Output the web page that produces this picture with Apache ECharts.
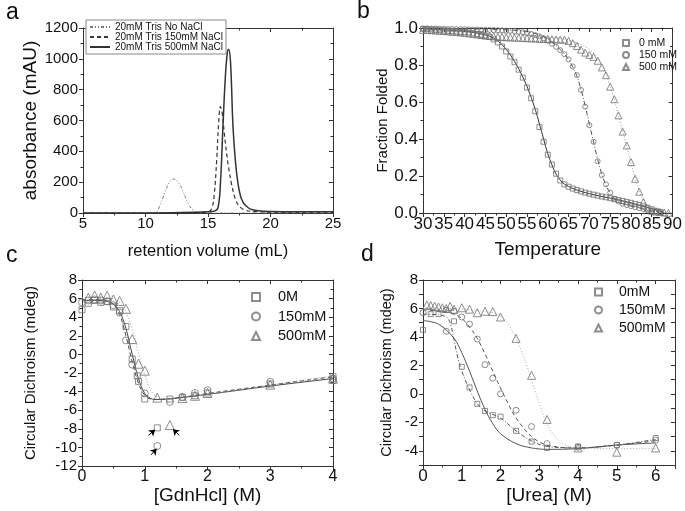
<!DOCTYPE html>
<html><head><meta charset="utf-8">
<script src="https://cdn.jsdelivr.net/npm/echarts@6/dist/echarts.min.js"></script>
<style>html,body{margin:0;padding:0;background:#fff}#c{width:685px;height:511px}</style>
</head><body><div id="c"></div>
<script>
// ---------- Panel a: size-exclusion chromatograms ----------
const aVolNo   = [5, 8, 10, 10.8, 11.1, 11.4, 11.7, 12.0, 12.3, 12.6, 12.9, 13.2, 13.5, 13.8, 14.2, 16, 20, 25];
const aAbsNo   = [0, 0, 0, 5, 40, 100, 165, 208, 220, 200, 160, 100, 50, 18, 3, 0, 0, 0];
const aVol150  = [5, 10, 14, 15, 15.3, 15.5, 15.7, 15.85, 16.0, 16.15, 16.3, 16.5, 16.7, 16.9, 17.15, 17.4, 17.7, 18.0, 18.5, 19, 20, 25];
const aAbs150  = [0, 0, 3, 8, 30, 120, 350, 580, 690, 640, 520, 380, 270, 180, 100, 55, 30, 18, 10, 8, 6, 5];
const aVol500  = [5, 10, 14, 15, 15.5, 15.8, 16.0, 16.2, 16.4, 16.55, 16.65, 16.8, 17.0, 17.2, 17.4, 17.6, 17.8, 18.0, 18.4, 19, 20, 22, 25];
const aAbs500  = [0, 0, 5, 8, 12, 35, 200, 570, 900, 1040, 1062, 980, 560, 330, 190, 110, 70, 50, 25, 15, 10, 8, 8];
const aNames   = ['20mM Tris No NaCl', '20mM Tris 150mM NaCl', '20mM Tris 500mM NaCl'];

// ---------- Panel b: thermal melts ----------
const bNames = ['0 mM', '150 mM', '500 mM'];
const bT0 = [30,31,32,33,34,35,36,37,38,39,40,41,42,43,44,45,46,47,48,49,50,51,52,53,54,55,56,57,58,59,60,61,62,63,64,65,66,67,68,69,70,71,72,73,74,75,76,77,78,79,80,81,82,83,84,85,86,87];
const bF0 = [0.995,0.994,0.992,0.99,0.988,0.986,0.985,0.983,0.981,0.979,0.977,0.975,0.971,0.967,0.963,0.958,0.952,0.938,0.922,0.9,0.873,0.846,0.815,0.775,0.732,0.678,0.62,0.55,0.465,0.385,0.315,0.262,0.212,0.176,0.155,0.142,0.132,0.124,0.117,0.11,0.104,0.099,0.094,0.089,0.085,0.08,0.075,0.07,0.065,0.06,0.055,0.049,0.043,0.036,0.028,0.02,0.012,0.006];
const bT150 = [30,31,32,33,34,35,36,37,38,39,40,41,42,43,44,45,46,47,48,49,50,51,52,53,54,55,56,57,58,59,60,61,62,63,64,65,66,67,68,69,70,71,72,73,74,75,76,77,78,79,80,81,82,83,84,85,86,87];
const bF150 = [0.998,0.998,0.997,0.997,0.996,0.996,0.995,0.995,0.994,0.994,0.993,0.993,0.992,0.992,0.991,0.99,0.99,0.989,0.988,0.987,0.986,0.985,0.983,0.98,0.977,0.973,0.968,0.962,0.955,0.945,0.932,0.915,0.898,0.88,0.858,0.83,0.792,0.745,0.665,0.575,0.475,0.385,0.28,0.205,0.155,0.11,0.078,0.062,0.05,0.043,0.037,0.031,0.026,0.021,0.016,0.011,0.007,0.003];
const bT500 = [30,31,32,33,34,35,36,37,38,39,40,41,42,43,44,45,46,47,48,49,50,51,52,53,54,55,56,57,58,59,60,61,62,63,64,65,66,67,68,69,70,71,72,73,74,75,76,77,78,79,80,81,82,83,84,85,86,87,88,89];
const bF500 = [0.99,0.99,0.988,0.987,0.985,0.984,0.982,0.98,0.978,0.976,0.974,0.971,0.968,0.965,0.962,0.959,0.957,0.955,0.953,0.951,0.95,0.949,0.948,0.947,0.946,0.945,0.944,0.943,0.942,0.941,0.94,0.939,0.938,0.937,0.937,0.93,0.918,0.903,0.883,0.867,0.855,0.844,0.823,0.787,0.745,0.683,0.615,0.528,0.44,0.365,0.275,0.185,0.115,0.06,0.025,0.012,0.008,0.005,0.003,0.001];
const bFitT0 = [30, 35, 40, 45, 47, 49, 51, 53, 55, 57, 58, 59, 60, 61, 62, 63, 64, 66, 68, 70, 75, 80, 85, 88];
const bFitF0 = [0.995, 0.99, 0.983, 0.963, 0.945, 0.91, 0.855, 0.78, 0.685, 0.56, 0.48, 0.4, 0.32, 0.26, 0.21, 0.178, 0.156, 0.133, 0.117, 0.104, 0.08, 0.055, 0.022, 0.003];
const bFitT150 = [30, 40, 50, 55, 58, 60, 62, 64, 65, 66, 67, 68, 69, 70, 71, 72, 73, 74, 75, 76, 78, 80, 85, 88];
const bFitF150 = [0.999, 0.996, 0.99, 0.98, 0.962, 0.94, 0.905, 0.86, 0.83, 0.79, 0.74, 0.668, 0.578, 0.48, 0.385, 0.29, 0.21, 0.15, 0.108, 0.08, 0.05, 0.037, 0.012, 0.002];
const bFitT500 = [30, 40, 50, 60, 64, 67, 70, 72, 73, 74, 75, 76, 77, 78, 79, 80, 81, 82, 83, 84, 86, 90];
const bFitF500 = [0.995, 0.985, 0.97, 0.952, 0.94, 0.92, 0.885, 0.84, 0.8, 0.75, 0.685, 0.613, 0.53, 0.445, 0.36, 0.27, 0.19, 0.12, 0.068, 0.035, 0.012, 0.0];

// ---------- Panel c: GdnHCl denaturation ----------
const cNames = ['0M', '150mM', '500mM'];
const cX0 = [0, 0.1, 0.2, 0.3, 0.4, 0.5, 0.6, 0.7, 0.8, 0.88, 0.9, 1.0, 1.2, 1.4, 1.6, 1.8, 2.0, 3.0, 4.0, 4.0];
const cY0 = [4.8, 5.5, 5.8, 5.6, 5.7, 5.1, 4.7, 3.0, -0.5, -2.3, -2.9, -4.8, -7.9, -4.8, -4.6, -4.45, -4.15, -3.2, -2.4, -2.8];
const cX150 = [0, 0.1, 0.2, 0.3, 0.4, 0.5, 0.6, 0.7, 0.8, 1.0, 1.2, 1.4, 1.6, 1.8, 2.0, 3.0, 4.0];
const cY150 = [5.6, 5.8, 5.9, 5.8, 5.7, 5.3, 4.5, 1.5, -1.1, -4.2, -9.85, -5.1, -4.6, -4.15, -3.85, -2.95, -2.6];
const cX500 = [0.1, 0.2, 0.3, 0.4, 0.5, 0.6, 0.7, 0.8, 0.9, 1.0, 1.2, 1.4, 1.6, 1.8, 2.0, 3.0, 4.0];
const cY500 = [6.1, 6.35, 6.1, 6.3, 5.9, 5.75, 4.9, 1.65, -1.0, -1.75, -4.65, -7.6, -4.7, -4.45, -4.15, -3.25, -2.6];
const cFitX = [0, 0.2, 0.4, 0.5, 0.6, 0.7, 0.8, 0.9, 1.0, 1.1, 1.2, 1.5, 2, 3, 4];
const cFitY0 = [5.8, 5.8, 5.7, 5.4, 4.6, 2.8, 0.0, -2.6, -4.2, -4.75, -4.85, -4.7, -4.3, -3.4, -2.6];
const cFitY150 = [5.9, 5.9, 5.8, 5.4, 4.3, 2.0, -0.8, -3.1, -4.4, -4.8, -4.85, -4.7, -4.2, -3.3, -2.4];
const cFitX500 = [0, 0.2, 0.4, 0.5, 0.6, 0.7, 0.8, 0.9, 1.0, 1.1, 1.2, 1.3, 1.5, 2, 3, 4];
const cFitY500 = [6.1, 6.1, 6.05, 6.0, 5.6, 4.6, 2.7, 0.2, -2.2, -3.9, -4.6, -4.8, -4.75, -4.3, -3.3, -2.3];
// arrows pointing at outliers: [fromX, fromY, toX, toY]
const cArrows = [[1.06, -8.7, 1.165, -8.1], [1.10, -10.8, 1.19, -10.15], [1.55, -8.7, 1.45, -8.05]];

// ---------- Panel d: urea denaturation ----------
const dNames = ['0mM', '150mM', '500mM'];
const dX0 = [0, 0.2, 0.4, 0.6, 0.8, 1.0, 1.2, 1.4, 1.6, 1.8, 2.0, 2.4, 2.8, 3.2, 4.0, 5.0, 6.0];
const dY0 = [4.5, 5.6, 5.6, 5.9, 5.1, 1.9, 0.45, -0.7, -1.2, -1.5, -1.6, -2.6, -3.35, -3.8, -3.7, -3.6, -3.1];
const dX150 = [0, 0.6, 0.8, 1.0, 1.2, 1.4, 1.6, 1.8, 2.0, 2.4, 2.8, 3.2, 4.0, 5.0, 6.0];
const dY150 = [5.7, 4.4, 5.8, 5.4, 4.9, 3.85, 2.05, 1.1, 0.0, -1.15, -2.3, -3.5, -3.75, -3.6, -3.25];
const dX500 = [0.1, 0.2, 0.3, 0.4, 0.5, 0.6, 0.7, 0.8, 1.0, 1.2, 1.4, 1.6, 1.8, 2.0, 2.4, 2.8, 3.2, 4.0, 5.0, 6.0];
const dY500 = [6.25, 6.2, 6.15, 6.1, 6.05, 6.0, 6.15, 5.95, 6.05, 5.95, 5.7, 5.8, 5.78, 5.4, 3.9, 1.3, -1.8, -3.8, -4.1, -3.8];
const dFitSX = [0, 0.4, 0.8, 1.0, 1.2, 1.4, 1.6, 1.8, 2.0, 2.4, 2.8, 3.2, 4.0, 5.0, 6.0];
const dFitSY = [5.15, 4.9, 3.9, 2.9, 1.6, 0.2, -1.1, -2.1, -2.8, -3.5, -3.8, -3.9, -3.85, -3.6, -3.45];
const dFitX0 = [0, 0.4, 0.6, 0.7, 0.8, 0.9, 1.0, 1.2, 1.4, 1.6, 1.8, 2.0, 2.4, 2.8, 3.2, 4.0, 5.0, 6.0];
const dFitY0 = [5.6, 5.55, 5.4, 5.0, 3.8, 2.5, 1.6, 0.3, -0.7, -1.2, -1.45, -1.7, -2.6, -3.3, -3.7, -3.8, -3.6, -3.2];
const dFitX150 = [0, 0.5, 0.8, 1.0, 1.2, 1.4, 1.6, 1.8, 2.0, 2.2, 2.4, 2.8, 3.2, 4.0, 5.0, 6.0];
const dFitY150 = [5.9, 5.8, 5.6, 5.3, 4.7, 3.9, 2.8, 1.6, 0.4, -0.7, -1.7, -3.0, -3.6, -3.8, -3.6, -3.3];
const dFitX500 = [0, 1.0, 1.8, 2.0, 2.2, 2.4, 2.6, 2.8, 3.0, 3.2, 3.4, 3.6, 4.0, 5.0, 6.0];
const dFitY500 = [6.05, 5.95, 5.7, 5.5, 4.9, 3.9, 2.6, 1.0, -0.7, -2.1, -3.0, -3.5, -3.8, -3.85, -3.85];

// ---------- build ----------
const FONT = '"Liberation Sans", Arial, sans-serif';
const AXC = '#333';
const SYM = '#707070';
const zip = (xs, ys) => xs.map((x, i) => [x, ys[i]]);

function axis(o) {
  const a = {
    type: 'value', gridIndex: o.g, min: o.min, max: o.max, interval: o.iv, position: o.pos,
    axisLine: { show: true, onZero: false, lineStyle: { color: AXC, width: 1 } },
    axisTick: { show: true, inside: !!o.inside, length: 4, lineStyle: { color: AXC } },
    minorTick: { show: !!o.minor, splitNumber: o.minor || 2, length: 2.5, lineStyle: { color: AXC } },
    splitLine: { show: false },
    axisLabel: { show: !o.noLabel, fontSize: o.fs || 12, fontFamily: FONT, color: '#111', margin: o.margin || 4,
      formatter: o.fmt || (v => String(v)) },
    name: o.name || '', nameLocation: 'middle', nameGap: o.ng || 0,
    nameTextStyle: { fontSize: o.nfs || 12, fontFamily: FONT, color: '#111' }
  };
  if (o.hideMax) a.axisLabel.showMaxLabel = false;
  return a;
}

const xDefs = [
  { g: 0, min: 5, max: 25, iv: 5, minor: 2, fs: 15, margin: 3, name: 'retention volume (mL)', ng: 30, nfs: 16.5 },
  { g: 1, min: 30, max: 90, iv: 5, minor: 2, fs: 17, margin: 3, name: 'Temperature', ng: 27, nfs: 19 },
  { g: 2, min: 0, max: 4, iv: 1, minor: 2, fs: 16, margin: 3, name: '[GdnHcl] (M)', ng: 17, nfs: 19 },
  { g: 3, min: 0, max: 6.5, iv: 1, minor: 2, fs: 17, margin: 3, hideMax: true, name: '[Urea] (M)', ng: 20, nfs: 19 }
];
const yDefs = [
  { g: 0, min: 0, max: 1200, iv: 200, minor: 2, fs: 15, margin: 5, name: 'absorbance (mAU)', ng: 42, nfs: 19 },
  { g: 1, min: 0, max: 1, iv: 0.2, minor: 2, fs: 17, margin: 5, fmt: v => v.toFixed(1), name: 'Fraction Folded', ng: 30, nfs: 15 },
  { g: 2, min: -12, max: 8, iv: 2, minor: 2, fs: 15, margin: 5, name: 'Circular Dichroism (mdeg)', ng: 44, nfs: 15 },
  { g: 3, min: -5, max: 8, iv: 1, minor: 0, fs: 15, margin: 5, fmt: v => (Math.round(v) % 2 === 0 ? String(v) : ''), name: 'Circular Dichroism (mdeg)', ng: 29, nfs: 14.5 }
];
const xAxis = [], yAxis = [];
xDefs.forEach(d => xAxis.push(axis(Object.assign({}, d, { pos: 'bottom' }))));
xDefs.forEach(d => xAxis.push(axis({ g: d.g, min: d.min, max: d.max, iv: d.iv, minor: d.minor, pos: 'top', inside: true, noLabel: true })));
yDefs.forEach(d => yAxis.push(axis(Object.assign({}, d, { pos: 'left' }))));
yDefs.forEach(d => yAxis.push(axis({ g: d.g, min: d.min, max: d.max, iv: d.iv, minor: d.minor, pos: 'right', inside: true, noLabel: true })));

function line(name, g, xs, ys, color, type, width, smooth) {
  return { type: 'line', name, xAxisIndex: g, yAxisIndex: g, data: zip(xs, ys), symbol: 'none', showSymbol: false,
    smooth: smooth == null ? 0.35 : smooth, lineStyle: { color, type, width }, itemStyle: { color }, z: 2, silent: true };
}
function scat(name, g, xs, ys, symbol, size) {
  return { type: 'scatter', name, xAxisIndex: g, yAxisIndex: g, data: zip(xs, ys), symbol, symbolSize: size,
    itemStyle: { color: 'rgba(255,255,255,0)', borderColor: SYM, borderWidth: 1 }, z: 3, silent: true };
}

const series = [
  line(aNames[0], 0, aVolNo, aAbsNo, '#777', [3, 2, 1, 2, 1, 2], 1, 0.4),
  line(aNames[1], 0, aVol150, aAbs150, '#333', [4, 3], 1.2, 0.4),
  line(aNames[2], 0, aVol500, aAbs500, '#333', 'solid', 1.5, 0.4),

  line('b fit 0', 1, bFitT0, bFitF0, '#333', 'solid', 1),
  line('b fit 150', 1, bFitT150, bFitF150, '#555', [5, 2, 1, 2], 1),
  line('b fit 500', 1, bFitT500, bFitF500, '#999', [1, 2], 1),
  scat(bNames[0], 1, bT0, bF0, 'rect', 5),
  scat(bNames[1], 1, bT150, bF150, 'circle', 5),
  scat(bNames[2], 1, bT500, bF500, 'triangle', 7),

  line('c fit 0', 2, cFitX, cFitY0, '#444', 'solid', 1),
  line('c fit 150', 2, cFitX, cFitY150, '#444', [4, 3], 1),
  line('c fit 500', 2, cFitX500, cFitY500, '#999', [1, 2], 1),
  Object.assign(scat(cNames[0], 2, cX0, cY0, 'rect', 6), {
    markLine: {
      silent: true, animation: false, symbol: ['none', 'arrow'], symbolSize: 6,
      lineStyle: { color: '#000', width: 1, type: 'solid' }, label: { show: false },
      data: cArrows.map(a => [{ coord: [a[0], a[1]] }, { coord: [a[2], a[3]] }])
    }
  }),
  scat(cNames[1], 2, cX150, cY150, 'circle', 7),
  scat(cNames[2], 2, cX500, cY500, 'triangle', 9),

  line('d fit solid', 3, dFitSX, dFitSY, '#555', 'solid', 1),
  line('d fit 0', 3, dFitX0, dFitY0, '#555', [4, 2, 1, 2], 1),
  line('d fit 150', 3, dFitX150, dFitY150, '#555', [4, 3], 1),
  line('d fit 500', 3, dFitX500, dFitY500, '#aaa', [1, 2], 1),
  scat(dNames[0], 3, dX0, dY0, 'rect', 5),
  scat(dNames[1], 3, dX150, dY150, 'circle', 6),
  scat(dNames[2], 3, dX500, dY500, 'triangle', 8)
];

const legTxt = (fs, lh, padL) => ({ fontSize: fs, lineHeight: lh, fontFamily: FONT, color: '#111', padding: [0, 0, 0, padL || 0] });
const legend = [
  { data: aNames, orient: 'vertical', left: 86, top: 20, itemWidth: 20, itemHeight: 8, itemGap: 0,
    padding: [2, 3, 2, 3], borderColor: '#888', borderWidth: 1, backgroundColor: '#fff', textStyle: legTxt(10, 10, 0),
    selectedMode: false, itemStyle: { opacity: 0 } },
  { data: bNames, orient: 'vertical', left: 622, top: 37, itemWidth: 6, itemHeight: 6, itemGap: 0, padding: 0,
    textStyle: legTxt(10.5, 12, 5), selectedMode: false },
  { data: cNames, orient: 'vertical', left: 251, top: 289, itemWidth: 8, itemHeight: 8, itemGap: 3.5, padding: 0,
    textStyle: legTxt(14.5, 16, 13), selectedMode: false },
  { data: dNames, orient: 'vertical', left: 594, top: 284, itemWidth: 7, itemHeight: 7, itemGap: 2, padding: 0,
    textStyle: legTxt(14, 16, 12), selectedMode: false }
];

const tl = (text, left, top) => ({ text, left, top, padding: 0, textStyle: { fontSize: 23, fontWeight: 'normal', fontFamily: FONT, color: '#111' } });

const option = {
  animation: false,
  backgroundColor: '#fff',
  title: [tl('a', 6, 1), tl('b', 357, 0), tl('c', 6, 244), tl('d', 361, 243)],
  grid: [
    { left: 83, top: 28, width: 250, height: 185 },
    { left: 423, top: 28, width: 250, height: 185 },
    { left: 82, top: 280, width: 251, height: 186 },
    { left: 423, top: 280, width: 252, height: 185 }
  ],
  xAxis, yAxis, legend, series
};
const chart = echarts.init(document.getElementById('c'), null, { renderer: 'canvas' });
chart.setOption(option);
</script>
</body></html>
